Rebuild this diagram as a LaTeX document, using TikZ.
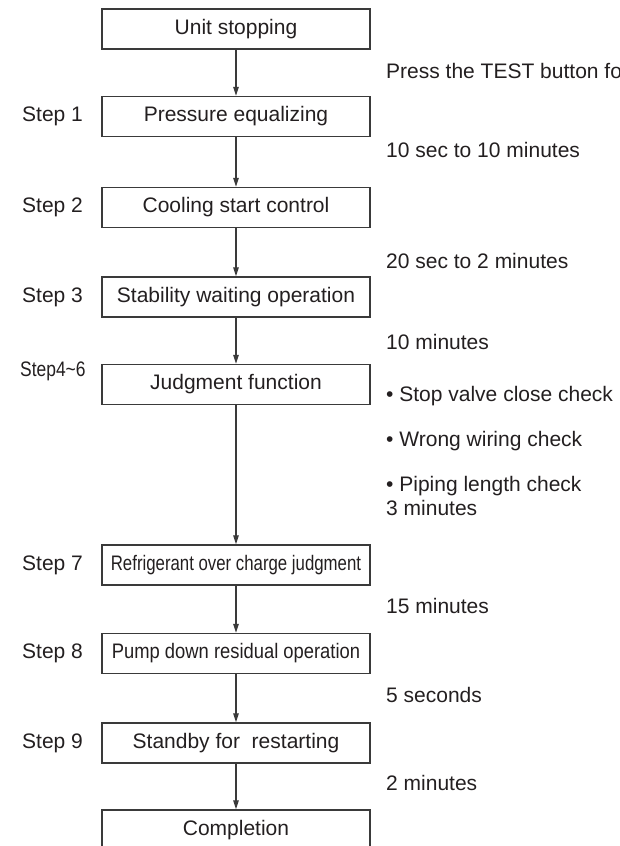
\documentclass[tikz,border=0pt]{standalone}
\usepackage{fontspec}
\setmainfont{Liberation Sans}
\usetikzlibrary{arrows.meta}
\definecolor{ink}{HTML}{231F20}
\definecolor{rule}{HTML}{3A3A3A}
\begin{document}
\begin{tikzpicture}[x=1pt,y=-1pt,
  every node/.style={font=\fontsize{21}{25}\selectfont, text=ink, inner sep=0pt},
  stepbox/.style={draw=rule, line width=1.4pt, minimum width=268pt, minimum height=40pt},
  steplabel/.style={anchor=west},
  note/.style={anchor=west},
  flow/.style={draw=rule, line width=1.3pt, -{Triangle[length=9pt,width=5.5pt]}}]
\useasboundingbox (0,0) rectangle (619,846);
\clip (0,0) rectangle (619,846);

% process boxes
\node[stepbox] (b0) at (236,29)    {Unit stopping};
\node[stepbox] (b1) at (236,116.5) {Pressure equalizing};
\node[stepbox] (b2) at (236,207.5) {Cooling start control};
\node[stepbox] (b3) at (236,297)   {Stability waiting operation};
\node[stepbox] (b4) at (236,384.5) {Judgment function};
\node[stepbox] (b7) at (236,565)   {\scalebox{0.8}[1]{Refrigerant over charge judgment}};
\node[stepbox] (b8) at (236,653.5) {\scalebox{0.875}[1]{Pump down residual operation}};
\node[stepbox] (b9) at (236,743)   {Standby for\ \ restarting};
\node[stepbox] (b10) at (236,830)  {Completion};

% step labels
\node[steplabel] (s1) at (22,116.5) {Step 1};
\node[steplabel] (s2) at (22,207.5) {Step 2};
\node[steplabel] (s3) at (22,297)   {Step 3};
\node[steplabel] (s4) at (20,371)   {\scalebox{0.83}[1]{Step4\char"007E 6}};
\node[steplabel] (s7) at (22,565)   {Step 7};
\node[steplabel] (s8) at (22,653.5) {Step 8};
\node[steplabel] (s9) at (22,743)   {Step 9};

% connectors
\draw[flow] (b0.south) -- (b1.north);
\draw[flow] (b1.south) -- (b2.north);
\draw[flow] (b2.south) -- (b3.north);
\draw[flow] (b3.south) -- (b4.north);
\draw[flow] (b4.south) -- (b7.north);
\draw[flow] (b7.south) -- (b8.north);
\draw[flow] (b8.south) -- (b9.north);
\draw[flow] (b9.south) -- (b10.north);

% timing notes
\node[note] (n0) at (386,71)  {Press the TEST button for};
\node[note] (n1) at (386,150) {10 sec to 10 minutes};
\node[note] (n2) at (386,261) {20 sec to 2 minutes};
\node[note] (n3) at (386,342) {10 minutes};
\node[note] (c1) at (386,396) {\textbullet\ Stop valve close check};
\node[note] (c2) at (386,441) {\textbullet\ Wrong wiring check};
\node[note] (c3) at (386,486) {\textbullet\ Piping length check};
\node[note] (n4) at (386,508) {3 minutes};
\node[note] (n7) at (386,606) {15 minutes};
\node[note] (n8) at (386,695) {5 seconds};
\node[note] (n9) at (386,783) {2 minutes};
\end{tikzpicture}
\end{document}
